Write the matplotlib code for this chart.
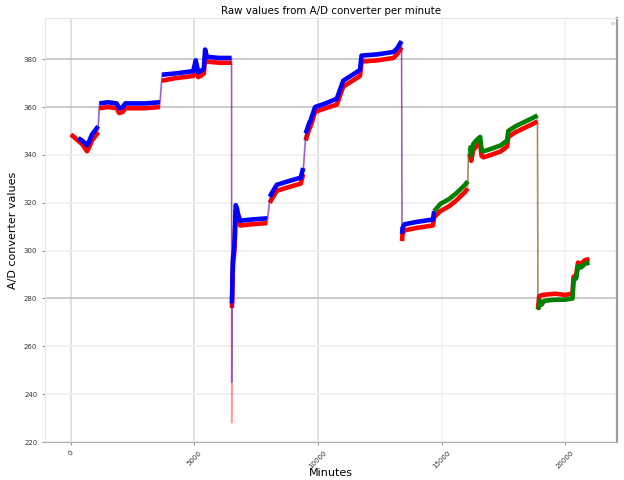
import numpy as np
import matplotlib
matplotlib.use('Agg')
import matplotlib.pyplot as plt

# A/D readings, one breakpoint per visible level change (minute, value)
red_min = [0, 120, 280, 450, 650, 750, 850, 1000, 1100, 1150, 1500, 1850, 1950, 2100, 2200,
           3000, 3600, 3680, 4200, 4950, 5050, 5150, 5250, 5380, 5430, 5500, 6000, 6500,
           6505, 6515, 6530, 6545, 6560, 6600, 6630, 6650, 6670, 6720, 6770, 6850, 7300,
           7950, 8050, 8100, 8330, 8800, 9300, 9400, 9500, 9550, 9650, 9700, 9880, 10300,
           10760, 10880, 11020, 11400, 11700, 11760, 12400, 13050, 13200, 13380, 13400,
           13420, 13500, 14000, 14650, 14700, 14950, 15300, 15600, 15950, 16060, 16090,
           16150, 16200, 16280, 16400, 16560, 16620, 16700, 17000, 17400, 17650, 17700,
           18000, 18400, 18700, 18880, 18900, 18950, 19100, 19600, 20000, 20300, 20340,
           20450, 20520, 20650, 20800, 20980]
red_val = [348.5, 347.5, 346.0, 344.5, 341.5, 343.5, 346.0, 348.0, 349.5, 359.5, 360.0, 359.5,
           357.5, 358.0, 359.5, 359.5, 360.0, 371.0, 372.0, 373.0, 377.0, 372.5, 373.0, 374.0,
           381.5, 379.0, 378.5, 378.5, 228.0, 276.0, 283.0, 290.0, 295.0, 298.0, 304.0, 311.0,
           317.0, 315.5, 313.0, 310.5, 311.0, 311.5, 320.0, 321.0, 325.0, 326.5, 328.0, 332.0,
           346.0, 348.0, 351.0, 352.0, 358.0, 359.5, 361.0, 364.5, 368.5, 371.0, 373.0, 379.0,
           379.5, 380.5, 382.0, 385.0, 304.0, 307.0, 308.5, 309.5, 310.5, 314.0, 316.5, 318.5,
           321.0, 324.5, 326.0, 340.5, 340.0, 337.5, 342.0, 343.5, 345.0, 339.5, 339.0, 340.0,
           341.5, 343.5, 347.5, 349.5, 351.5, 353.0, 354.0, 275.5, 281.0, 281.5, 282.0, 281.5,
           282.0, 289.0, 290.0, 295.0, 294.5, 296.0, 296.5]

blue_min = [300, 450, 650, 750, 850, 1000, 1100, 1150, 1500, 1850, 1950, 2100, 2200, 3000,
            3600, 3680, 4200, 4950, 5050, 5150, 5250, 5380, 5430, 5500, 6000, 6500, 6505,
            6515, 6530, 6545, 6560, 6600, 6630, 6650, 6670, 6720, 6770, 6850, 7300, 7950,
            8050, 8100, 8330, 8800, 9300, 9400, 9500, 9550, 9650, 9700, 9880, 10300, 10760,
            10880, 11020, 11400, 11700, 11760, 12400, 13050, 13200, 13380, 13400, 13420,
            13500, 14000, 14650, 14700]
blue_val = [347.0, 346.0, 344.0, 346.0, 348.5, 350.5, 352.0, 361.5, 362.0, 361.5, 359.5, 360.0,
            361.5, 361.5, 362.0, 373.5, 374.0, 375.0, 379.5, 374.5, 375.0, 376.0, 384.0, 381.0,
            380.5, 380.5, 245.0, 278.0, 285.0, 292.0, 297.0, 300.0, 306.0, 313.0, 319.0, 317.5,
            315.0, 312.5, 313.0, 313.5, 322.5, 323.5, 327.5, 329.0, 330.5, 334.5, 349.0, 350.5,
            353.5, 354.5, 360.0, 361.5, 363.5, 367.0, 371.0, 373.5, 375.5, 381.5, 382.0, 383.0,
            384.5, 387.5, 307.0, 309.5, 311.0, 312.0, 313.0, 316.5]

green_min = [14700, 14950, 15300, 15600, 15950, 16060, 16090, 16150, 16200, 16280, 16400,
             16560, 16620, 16700, 17000, 17400, 17650, 17700, 18000, 18400, 18700, 18880,
             18900, 18930, 18980, 19050, 19150, 19600, 20000, 20300, 20340, 20450, 20520,
             20650, 20800, 20980]
green_val = [316.5, 319.5, 321.5, 324.0, 327.5, 329.0, 343.0, 343.0, 340.0, 344.5, 346.0, 347.5,
             342.0, 341.5, 342.5, 344.0, 346.0, 350.0, 352.0, 354.0, 355.5, 356.5, 276.5, 276.0,
             279.0, 277.5, 279.0, 279.5, 279.5, 280.0, 287.5, 288.5, 293.5, 293.0, 294.5, 295.0]


def plot_trace(ax, minutes, values, color):
    x = np.asarray(minutes, dtype=float)
    y = np.asarray(values, dtype=float)
    # thin line for the whole trace, jumps stay faint
    ax.plot(x, y, color=color, lw=1.1, alpha=0.4)
    # noisy band only where the level changes slowly
    cut = np.where(np.abs(np.diff(y)) > 8)[0] + 1
    xb = np.insert(x, cut, np.nan)
    yb = np.insert(y, cut, np.nan)
    ax.plot(xb, yb, color=color, lw=3.3, solid_capstyle='butt')


fig, ax = plt.subplots(figsize=(6.24, 4.8), dpi=100)
fig.subplots_adjust(left=0.072, right=0.989, top=0.962, bottom=0.079)

plot_trace(ax, red_min, red_val, 'red')
plot_trace(ax, blue_min, blue_val, 'blue')
plot_trace(ax, green_min, green_val, 'green')

ax.set_xlim(-1053, 22105)
ax.set_ylim(220, 397.1)
ax.set_xticks([0, 5000, 10000, 15000, 20000])
ax.set_yticks(np.arange(220, 381, 20))

ax.grid(True, lw=1.2)
strong_y = {380, 360, 280}
for tick, line in zip(ax.get_yticks(), ax.get_ygridlines()):
    line.set_color('#c4c4c4' if tick in strong_y else '#eeeeee')
for tick, line in zip(ax.get_xticks(), ax.get_xgridlines()):
    line.set_color('#dcdcdc' if tick <= 10000 else '#f2f2f2')
ax.set_axisbelow(True)

for side in ['top', 'left']:
    ax.spines[side].set_color('#e6e6e6')
ax.spines['bottom'].set_color('#b0b0b0')
ax.spines['right'].set_color('#9a9a9a')
ax.spines['right'].set_linewidth(1.6)

ax.tick_params(labelsize=5, length=2, color='#999999', labelcolor='#333333')
plt.setp(ax.get_xticklabels(), rotation=45)
ax.set_xlabel('Minutes', fontsize=8)
ax.xaxis.set_label_coords(0.5, -0.074)
ax.xaxis.label.set_va('center')
ax.set_ylabel('A/D converter values', fontsize=8)
ax.set_title('Raw values from A/D converter per minute', fontsize=7.4, pad=3)
ax.legend(handles=[], labels=[], loc='upper right', borderpad=0.2, fontsize=5)

fig.savefig('out.png', dpi=100)
